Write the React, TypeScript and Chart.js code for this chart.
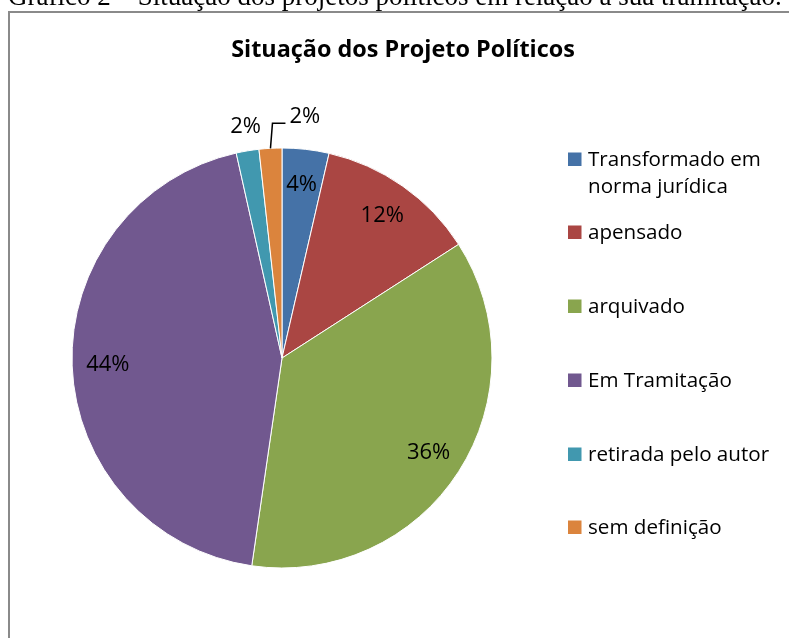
import React, { useEffect, useRef } from "react";
import { Chart, registerables } from "chart.js";

Chart.register(...registerables);

const caption = "Gráfico 2 – Situação dos projetos políticos em relação à sua tramitação.";
const chartTitle = "Situação dos Projeto Políticos";
const categories = [
  "Transformado em\nnorma jurídica",
  "apensado",
  "arquivado",
  "Em Tramitação",
  "retirada pelo autor",
  "sem definição",
];
const values = [3.6, 12.3, 36.4, 44.2, 1.75, 1.75];
const colors = ["#4572A7", "#AA4643", "#89A54E", "#71588F", "#4198AF", "#DB843D"];

const FONT = '"Open Sans", sans-serif';

const decor = {
  id: "decor",
  beforeDraw(chart: any) {
    const ctx = chart.ctx as CanvasRenderingContext2D;
    ctx.save();
    ctx.fillStyle = "#ffffff";
    ctx.fillRect(0, 0, chart.width, chart.height);
    // caption (cut off at top)
    ctx.fillStyle = "#000";
    ctx.font = '27px "Liberation Serif", serif';
    ctx.textBaseline = "alphabetic";
    ctx.textAlign = "left";
    ctx.fillText(caption, 8, 4.5);
    // border
    ctx.strokeStyle = "#8a8a8a";
    ctx.lineWidth = 2;
    ctx.strokeRect(9, 12, 900, 800);
    // title
    ctx.font = "bold 23.4px " + FONT;
    ctx.textAlign = "center";
    ctx.fillText(chartTitle, 403, 57);
    ctx.restore();
  },
  afterDatasetsDraw(chart: any) {
    const ctx = chart.ctx as CanvasRenderingContext2D;
    const meta = chart.getDatasetMeta(0);
    const data = chart.data.datasets[0].data as number[];
    const total = data.reduce((a, b) => a + b, 0);
    ctx.save();
    ctx.fillStyle = "#000";
    ctx.font = "22px " + FONT;
    ctx.textBaseline = "middle";
    meta.data.forEach((arc: any, i: number) => {
      const { x, y, startAngle, endAngle, outerRadius } = arc.getProps(
        ["x", "y", "startAngle", "endAngle", "outerRadius"],
        true
      );
      const mid = (startAngle + endAngle) / 2;
      const label = Math.round((data[i] / total) * 100) + "%";
      const cos = Math.cos(mid);
      const sin = Math.sin(mid);
      if (data[i] / total > 0.03) {
        const r = outerRadius * 0.83;
        ctx.textAlign = "center";
        ctx.fillText(label, x + r * cos, y + r * sin);
      } else if (i === categories.length - 1) {
        const px = x + outerRadius * cos;
        const py = y + outerRadius * sin;
        ctx.strokeStyle = "#000";
        ctx.lineWidth = 1.5;
        ctx.beginPath();
        ctx.moveTo(px, py);
        ctx.lineTo(px + 2, py - 25);
        ctx.lineTo(px + 15, py - 25);
        ctx.stroke();
        ctx.textAlign = "left";
        ctx.fillText(label, px + 19, py - 32);
      } else {
        const r = outerRadius + 24;
        ctx.textAlign = "center";
        ctx.fillText(label, x + r * cos + 2, y + r * sin);
      }
    });
    // legend
    const baselines = [166, 239, 313, 387, 461, 534];
    ctx.font = "20.6px " + FONT;
    ctx.textAlign = "left";
    ctx.textBaseline = "alphabetic";
    chart.data.labels.forEach((lab: string, i: number) => {
      const b = baselines[i];
      ctx.fillStyle = colors[i];
      ctx.fillRect(568, b - 13.5, 13.5, 13.5);
      ctx.fillStyle = "#000";
      lab.split("\n").forEach((line, j) => {
        ctx.fillText(line, 588, b + j * 27);
      });
    });
    ctx.restore();
  },
};

export default function App() {
  const ref = useRef<HTMLCanvasElement>(null);
  useEffect(() => {
    if (!ref.current) return;
    const chart = new Chart(ref.current, {
      type: "pie",
      data: {
        labels: categories,
        datasets: [
          {
            data: values,
            backgroundColor: colors,
            borderColor: "#ffffff",
            borderWidth: 1,
            hoverOffset: 0,
          },
        ],
      },
      options: {
        responsive: false,
        animation: false,
        devicePixelRatio: 1,
        radius: 210,
        layout: { padding: { left: 72, right: 297, top: 148, bottom: 70 } },
        plugins: {
          legend: { display: false },
          title: { display: false },
          tooltip: { enabled: false },
        },
      } as any,
      plugins: [decor],
    });
    return () => chart.destroy();
  }, []);
  return (
    <div style={{ position: "absolute", left: 0, top: 0, width: 789, height: 638, overflow: "hidden" }}>
      <canvas ref={ref} width={789} height={638} style={{ display: "block", width: 789, height: 638 }} />
    </div>
  );
}
